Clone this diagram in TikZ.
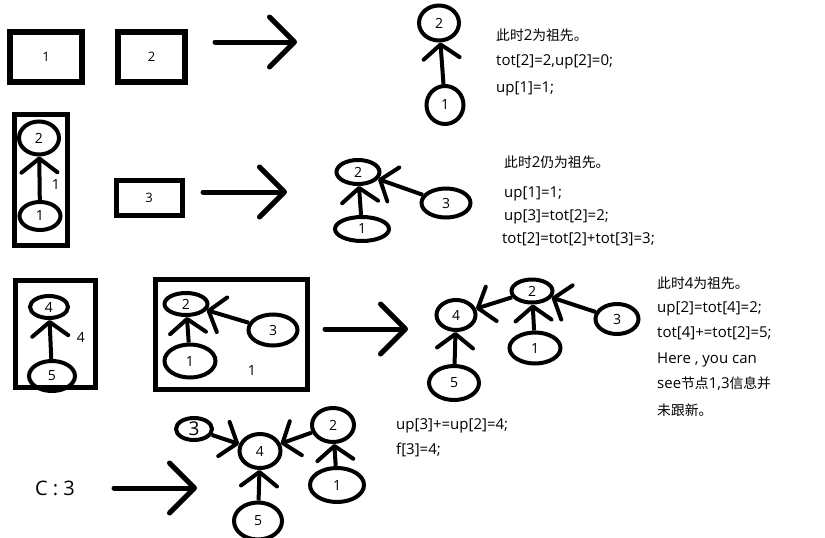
\documentclass[tikz,border=0pt]{standalone}
\usepackage{fontspec}
\setmainfont{Open Sans}
\newfontfamily\cjk[Scale=0.92]{Noto Sans CJK SC}
\usetikzlibrary{arrows.meta, shapes.geometric}
\tikzset{
  vtx/.style 2 args={draw, ellipse, line width=4pt, minimum width=#1, minimum height=#2, inner sep=0pt, font=\fontsize{14}{16}\selectfont},
  box/.style 2 args={draw, rectangle, line width=5pt, minimum width=#1, minimum height=#2, inner sep=0pt, font=\fontsize{13}{15}\selectfont},
  wt/.style={inner sep=0pt, font=\fontsize{14}{16}\selectfont},
  note/.style={anchor=base west, inner sep=0pt, font=\fontsize{15}{17}\selectfont},
  sarr/.style={line width=4pt, -{Straight Barb[length=14pt, width=36pt, round]}},
  bigarr/.style={line width=5pt, line cap=round, -{Straight Barb[length=25pt, width=50pt, round]}},
}

\begin{document}
\begin{tikzpicture}[x=1pt, y=-1pt]
  \useasboundingbox[fill=white] (0,0) rectangle (825,538);

  % row 1
  \node[box={72}{50}, line width=6pt] (bx1) at (46,57) {1};
  \node[box={67}{50}, line width=6pt] (bx2) at (151.5,57) {2};
  \coordinate (s1) at (215,42);
  \coordinate (e1) at (297,42);
  \draw[bigarr] (s1) -- (e1);
  \node[vtx={40}{35}] (a2) at (439,23) {2};
  \node[vtx={37}{38}] (a1) at (445,105) {1};
  \draw[sarr] (a1) -- (a2);
  \node[note] (n1a) at (496,40) {{\cjk 此时}2{\cjk 为祖先。}};
  \node[note] (n1b) at (496,65) {tot[2]=2,up[2]=0;};
  \node[note] (n1c) at (496,92) {up[1]=1;};

  % row 2
  \node[box={53}{131}] (bx12) at (41,180) {};
  \node[vtx={40}{33}] (b2) at (39,138) {2};
  \node[vtx={41}{28}] (b1) at (40,216) {1};
  \draw[sarr] (b1) -- (b2);
  \node[wt] (w1) at (56,185) {1};
  \node[box={66}{35}] (bx3) at (149,198) {3};
  \coordinate (s2) at (203,192);
  \coordinate (e2) at (287,192);
  \draw[bigarr] (s2) -- (e2);
  \node[vtx={43}{24}] (c2) at (358,172) {2};
  \node[vtx={54}{24}] (c1) at (362,229) {1};
  \node[vtx={49}{29}] (c3) at (446,203) {3};
  \draw[sarr] (c1) -- (c2);
  \draw[sarr] (c3) -- (c2);
  \node[note] (n2a) at (504,167) {{\cjk 此时}2{\cjk 仍为祖先。}};
  \node[note] (n2b) at (504,197) {up[1]=1;};
  \node[note] (n2c) at (504,220) {up[3]=tot[2]=2;};
  \node[note] (n2d) at (502,243) {tot[2]=tot[2]+tot[3]=3;};

  % row 3
  \node[box={80}{107}] (bx45) at (55.5,334) {};
  \node[vtx={38}{22}] (d4) at (49,307) {4};
  \node[vtx={46}{30}] (d5) at (52,376) {5};
  \draw[sarr] (d5) -- (d4);
  \node[wt] (w4) at (81,337) {4};
  \node[box={152}{110}] (bx123) at (231.5,334.5) {};
  \node[vtx={43}{22}] (e2) at (186,304) {2};
  \node[vtx={51}{33}] (e1) at (190,361) {1};
  \node[vtx={49}{31}] (e3) at (273,330) {3};
  \draw[sarr] (e1) -- (e2);
  \draw[sarr] (e3) -- (e2);
  \node[wt] (w2) at (252,370) {1};
  \coordinate (s3) at (325,329);
  \coordinate (e3a) at (408,329);
  \draw[bigarr] (s3) -- (e3a);
  \node[vtx={39}{30}] (f4) at (456,315) {4};
  \node[vtx={41}{23}] (f2) at (532,291) {2};
  \node[vtx={43}{30}] (f3) at (617,319) {3};
  \node[vtx={51}{31}] (f1) at (535,348) {1};
  \node[vtx={50}{34}] (f5) at (454,383) {5};
  \draw[sarr] (f2) -- (f4);
  \draw[sarr] (f3) -- (f2);
  \draw[sarr] (f1) -- (f2);
  \draw[sarr] (f5) -- (f4);
  \node[note] (n3a) at (657,288) {{\cjk 此时}4{\cjk 为祖先。}};
  \node[note] (n3b) at (657,312) {up[2]=tot[4]=2;};
  \node[note] (n3c) at (657,337) {tot[4]+=tot[2]=5;};
  \node[note] (n3d) at (657,363) {Here , you can};
  \node[note] (n3e) at (657,388) {see{\cjk 节点}1,3{\cjk 信息并}};
  \node[note] (n3f) at (657,415) {{\cjk 未跟新。}};

  % row 4
  \node[wt, font=\fontsize{20}{22}\selectfont] (cq) at (55,488) {C : 3};
  \coordinate (s4) at (114,488);
  \coordinate (e4) at (197,488);
  \draw[bigarr] (s4) -- (e4);
  \node[vtx={36}{22}, font=\fontsize{19}{21}\selectfont] (g3) at (194,429) {3};
  \node[vtx={41}{34}] (g4) at (260,451) {4};
  \node[vtx={42}{34}] (g2) at (333,425) {2};
  \node[vtx={54}{34}] (g1) at (337,485) {1};
  \node[vtx={48}{37}] (g5) at (258,521) {5};
  \draw[sarr] (g3) -- (g4);
  \draw[sarr] (g2) -- (g4);
  \draw[sarr] (g1) -- (g2);
  \draw[sarr] (g5) -- (g4);
  \node[note] (n4a) at (396,429) {up[3]+=up[2]=4;};
  \node[note] (n4b) at (396,454) {f[3]=4;};
\end{tikzpicture}
\end{document}
